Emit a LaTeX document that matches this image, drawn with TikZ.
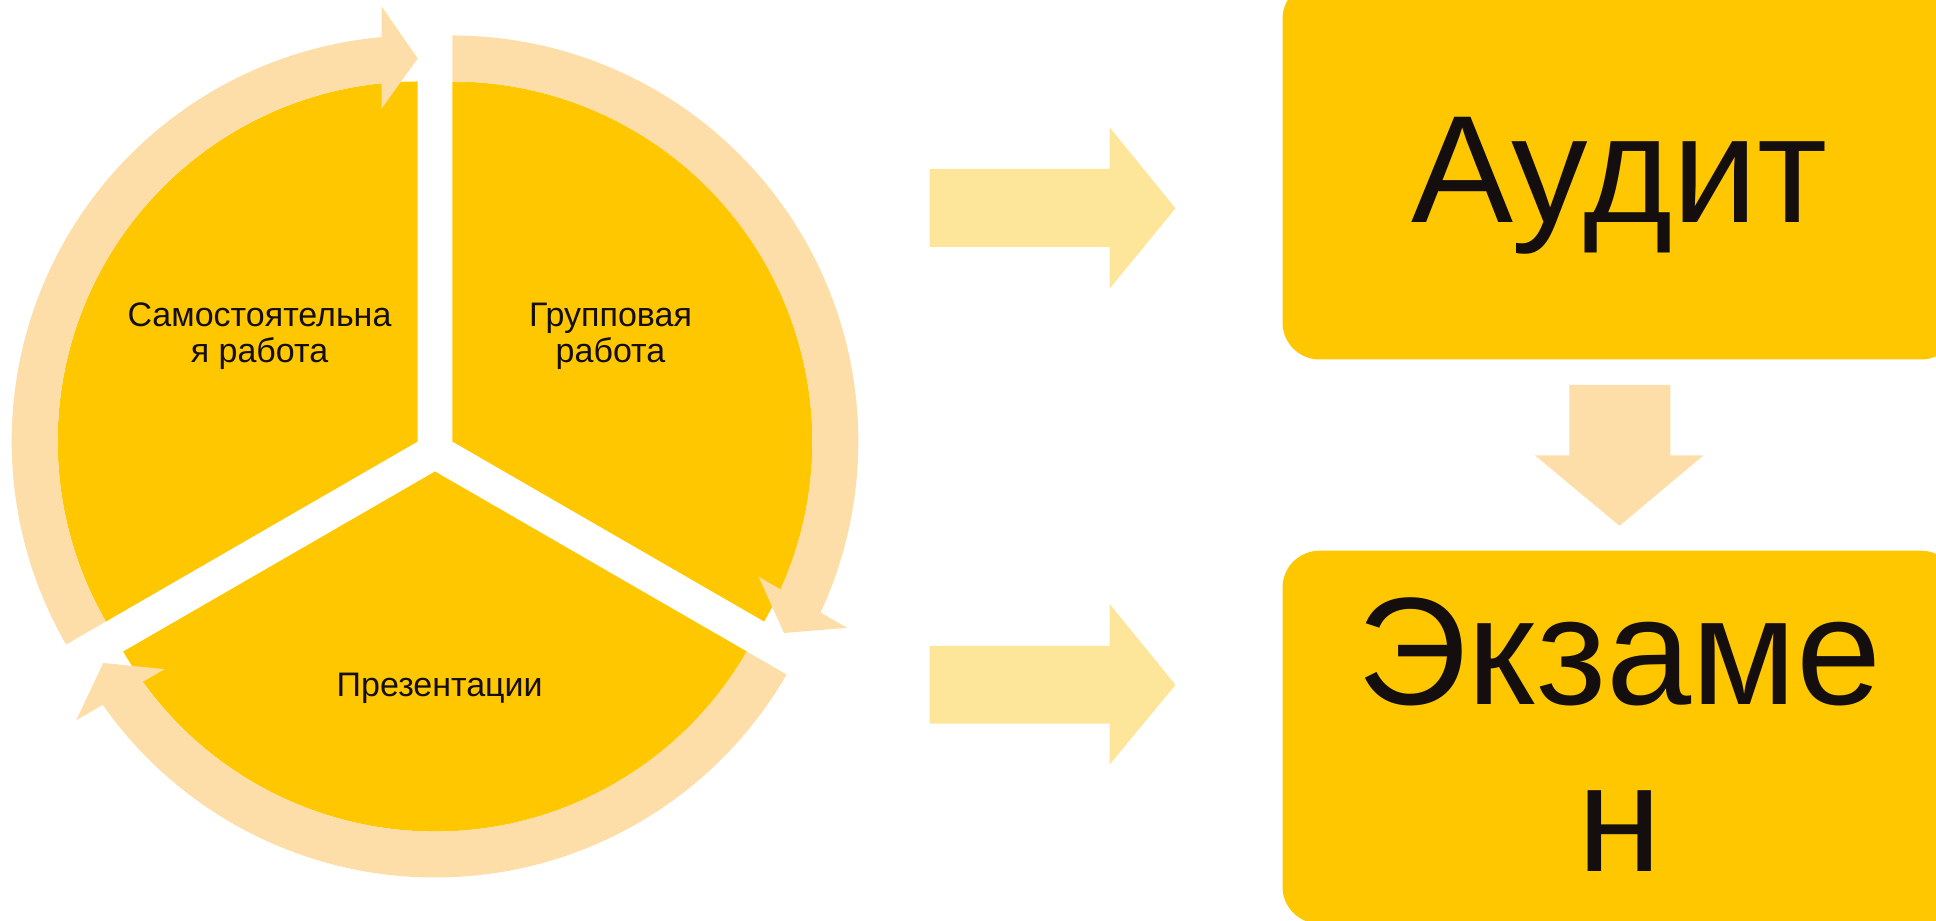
\documentclass[tikz,border=0pt]{standalone}
\usepackage{fontspec}
\setmainfont{Liberation Sans}
\definecolor{gold}{RGB}{255,199,0}
\definecolor{ringc}{RGB}{254,222,168}
\definecolor{arrc}{RGB}{253,229,154}
\definecolor{txt}{RGB}{20,14,14}
\tikzset{
  sector/.style={fill=gold, draw=none},
  ringarrow/.style={fill=ringc, draw=none},
  blockarrow/.style={fill=arrc, draw=none},
  downarrow/.style={fill=ringc, draw=none},
  smalltxt/.style={font=\fontsize{17}{18}\selectfont, text=txt, align=center, inner sep=0pt, anchor=base},
  bigtxt/.style={font=\fontsize{76.5}{83.5}\selectfont, text=txt, align=center, inner sep=0pt, anchor=base},
  box/.style={fill=gold, draw=none, rounded corners=18.5pt, minimum width=337.75pt, inner sep=0pt, outer sep=0pt},
  cyclearrow/.pic={
    \fill[ringarrow] (120:406) arc[start angle=120, end angle=5.087, radius=406]
      -- (435,36) -- (383,0) -- (333,36) -- (358.2,36)
      arc[start angle=5.74, end angle=120, radius=360] -- cycle;
  }
}
\begin{document}
\begin{tikzpicture}[x=0.5pt,y=0.5pt]
\useasboundingbox (0,0) rectangle (1936,920);
\coordinate (VL) at (417.68,478.5);
\coordinate (VR) at (452.32,478.5);
\coordinate (VB) at (435,448.5);
% sectors
\fill[sector] (VL) -- ++(90:360) arc[start angle=90, end angle=210, radius=360] -- cycle;
\fill[sector] (VR) -- ++(-30:360) arc[start angle=-30, end angle=90, radius=360] -- cycle;
\fill[sector] (VB) -- ++(210:360) arc[start angle=210, end angle=330, radius=360] -- cycle;
% circular arrows
\pic[shift={(VL)}, rotate=90] {cyclearrow};
\pic[shift={(VR)}, rotate=-30] {cyclearrow};
\pic[shift={(VB)}, rotate=210] {cyclearrow};
% sector labels (anchor = baseline of last line)
\node[smalltxt] (self) at (259.5,557.3) {Самостоятельна\\я работа};
\node[smalltxt] (group) at (610.5,557.3) {Групповая\\работа};
\node[smalltxt] (pres) at (439.7,223.7) {Презентации};
% boxes
\node[box, minimum height=188.75pt] (auditbox) at (1620.25,749.25) {};
\node[box, minimum height=186.5pt] (exambox) at (1620.25,182.8) {};
\node[bigtxt] (audit) at (1619.5,697) {Аудит};
\node[bigtxt] (exam) at (1619.5,48.5) {Экзаме\\н};
% block arrows
\fill[blockarrow] (929.7,673) -- (1109.5,673) -- (1109.5,631.3) -- (1175.5,711.7)
  -- (1109.5,792.7) -- (1109.5,751) -- (929.7,751) -- cycle;
\fill[blockarrow] (929.7,196.4) -- (1109.5,196.4) -- (1109.5,155.3) -- (1175.5,235.1)
  -- (1109.5,316.1) -- (1109.5,274) -- (929.7,274) -- cycle;
\fill[downarrow] (1569.3,535) -- (1670.4,535) -- (1670.4,464.6) -- (1703.4,464.6)
  -- (1619.5,394.2) -- (1535,464.6) -- (1569.3,464.6) -- cycle;
\end{tikzpicture}
\end{document}
